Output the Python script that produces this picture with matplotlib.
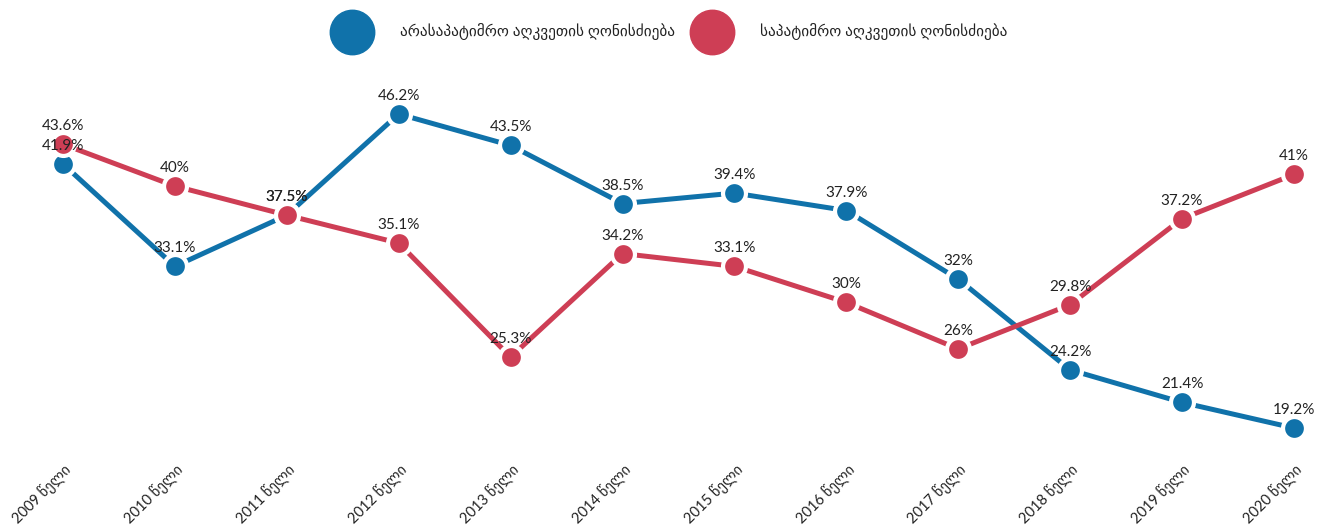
import matplotlib.pyplot as plt
from matplotlib.lines import Line2D

years = ["2009", "2010", "2011", "2012", "2013", "2014",
         "2015", "2016", "2017", "2018", "2019", "2020"]
tick_labels = [y + " წელი" for y in years]
non_custodial = [41.9, 33.1, 37.5, 46.2, 43.5, 38.5, 39.4, 37.9, 32, 24.2, 21.4, 19.2]
custodial = [43.6, 40, 37.5, 35.1, 25.3, 34.2, 33.1, 30, 26, 29.8, 37.2, 41]
series_names = ["არასაპატიმრო აღკვეთის ღონისძიება", "საპატიმრო აღკვეთის ღონისძიება"]

BLUE = "#1072aa"
RED = "#ce3e55"
FONT = ["Lato", "DejaVu Sans"]
plt.rcParams["font.family"] = FONT

fig = plt.figure(figsize=(13.26, 5.29), dpi=100)
W, H = 1326, 529
top_px, bot_px = 90, 450
ax = fig.add_axes([0, (H - bot_px) / H, 1, (bot_px - top_px) / H])

x = list(range(len(years)))
step = 111.9
ax.set_xlim(-63 / step, (W - 63) / step)
ppu = 11.63
ax.set_ylim(46.2 - (bot_px - 114) / ppu, 46.2 + (114 - top_px) / ppu)

for vals, col in [(non_custodial, BLUE), (custodial, RED)]:
    ax.plot(x, vals, color=col, lw=3.6, marker="o", ms=16.5, mfc=col,
            mec="white", mew=3, zorder=3, solid_capstyle="butt")
    for xi, v in zip(x, vals):
        ax.annotate(f"{v:g}%", (xi, v), xytext=(0, 11), textcoords="offset pixels",
                    ha="center", va="bottom", fontsize=11, color="#222222", zorder=5)

ax.set_xticks(x)
ax.set_xticklabels(tick_labels, rotation=45, ha="right", va="top",
                   rotation_mode="anchor", fontsize=10.5, color="#222222")
ax.tick_params(axis="x", length=0, pad=8)
ax.set_yticks([])
for s in ax.spines.values():
    s.set_visible(False)

# legend
for cx, tx, col, name in [(352, 400, BLUE, series_names[0]), (712, 760, RED, series_names[1])]:
    fig.add_artist(Line2D([cx / W], [1 - 32 / H], marker="o", ms=32, color=col,
                          mec=col, transform=fig.transFigure, lw=0))
    fig.text(tx / W, 1 - 32 / H, name, ha="left", va="center", fontsize=11, color="#222222")

fig.savefig("out.png", dpi=100)
